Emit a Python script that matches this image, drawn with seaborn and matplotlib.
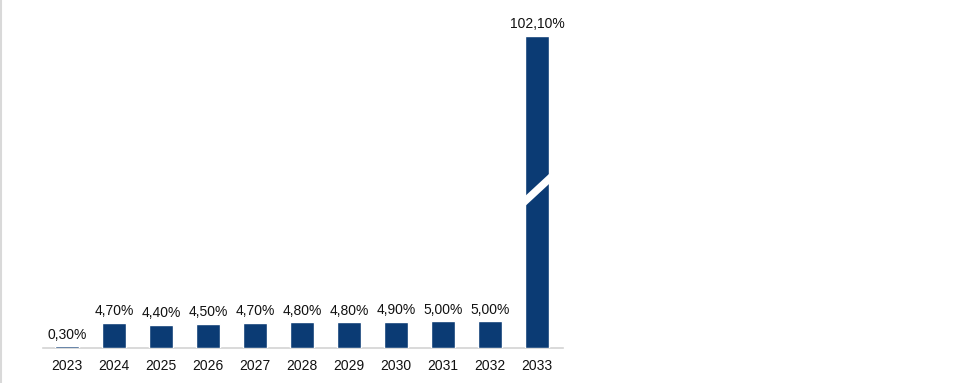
import numpy as np
import pandas as pd
import seaborn as sns
import matplotlib.pyplot as plt
from matplotlib.lines import Line2D
from matplotlib.patches import Polygon

# values (%)
years = ['2023', '2024', '2025', '2026', '2027', '2028', '2029', '2030', '2031', '2032', '2033']
rates = [0.3, 4.7, 4.4, 4.5, 4.7, 4.8, 4.8, 4.9, 5.0, 5.0, 102.1]

df = pd.DataFrame({'year': years, 'rate': rates})

# broken axis: above the threshold values are squeezed so the outlier fits
T = 10.0
K = 0.529


def fwd(v):
    v = np.asarray(v, dtype=float)
    return np.where(v <= T, v, T + (v - T) * K)


def inv(v):
    v = np.asarray(v, dtype=float)
    return np.where(v <= T, v, T + (v - T) / K)


sns.set_style('white')
plt.rcParams['font.family'] = ['Liberation Sans', 'DejaVu Sans']

fig = plt.figure(figsize=(9.62, 3.83), dpi=100)
ax = fig.add_axes([43 / 962, 1 - 348 / 383, 520 / 962, 338 / 383])

sns.barplot(data=df, x='year', y='rate', color='#0B3B74', saturation=1,
            width=0.51, ax=ax, zorder=3)
ax.set_yscale('function', functions=(fwd, inv))
ax.set_ylim(0, 111.2)
ax.set_xlim(-0.51, 10.55)

labels = [f'{v:.2f}%'.replace('.', ',') for v in rates]
ax.bar_label(ax.containers[0], labels=labels, padding=3.5, fontsize=10, color='#111111')

# white slash across the broken bar
bar = ax.patches[-1]
x0 = bar.get_x()
x1 = x0 + bar.get_width()
mid = 29.7   # break centre, in scaled units above the axis
d = 0.95     # half thickness
s = 2.25     # half rise across the bar
pts = [(x0 - 0.02, inv(mid - s - d)), (x1 + 0.02, inv(mid + s - d)),
       (x1 + 0.02, inv(mid + s + d)), (x0 - 0.02, inv(mid - s + d))]
ax.add_patch(Polygon(pts, closed=True, facecolor='white', edgecolor='none', zorder=5))

ax.set_xlabel('')
ax.set_ylabel('')
ax.set_yticks([])
ax.tick_params(axis='x', length=0, pad=8, labelsize=10, labelcolor='#111111')
for side in ['top', 'right', 'left']:
    ax.spines[side].set_visible(False)
ax.spines['bottom'].set_color('#D3D3D3')
ax.spines['bottom'].set_linewidth(1.2)
ax.spines['bottom'].set_zorder(1)

fig.add_artist(Line2D([0.001, 0.001], [0, 1], color='#D9D9D9', lw=1.5,
                      transform=fig.transFigure))

fig.savefig('out.png', dpi=100, facecolor='white')
